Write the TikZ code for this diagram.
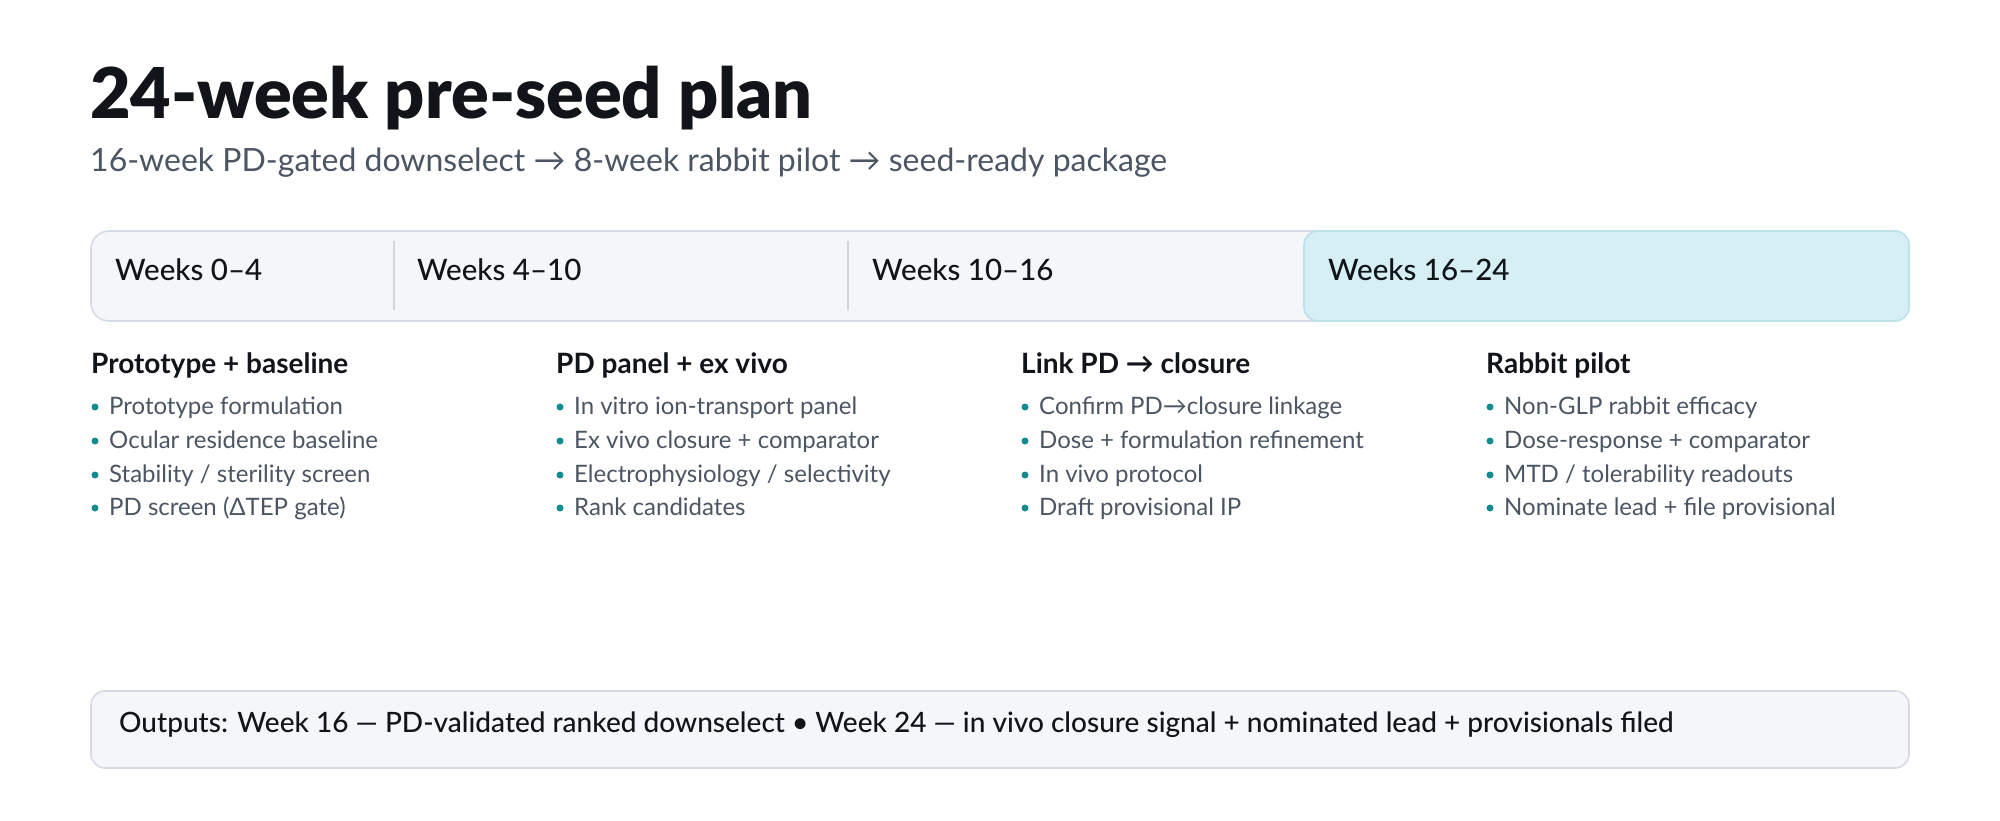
\documentclass[tikz,border=0pt]{standalone}
\usepackage{fontspec}
\setmainfont{Lato}
\newfontfamily\blackfont{Lato Black}
\newfontfamily\mediumfont{Lato Medium}
\definecolor{ink}{HTML}{111418}
\definecolor{subgray}{HTML}{4B5563}
\definecolor{barfill}{HTML}{F4F6FA}
\definecolor{barline}{HTML}{D5DBE3}
\definecolor{hlfill}{HTML}{D6EFF4}
\definecolor{hlline}{HTML}{B9E2EA}
\definecolor{divline}{HTML}{D1D5DB}
\definecolor{teal}{HTML}{128C91}
\begin{document}
\begin{tikzpicture}[x=1pt,y=-1pt,
  titletext/.style={anchor=base west,inner sep=0pt,text=ink,font=\fontsize{70}{80}\selectfont\blackfont},
  subtext/.style={anchor=base west,inner sep=0pt,text=subgray,font=\fontsize{32}{38}\selectfont},
  bar/.style={fill=barfill,draw=barline,line width=1.6pt,rounded corners=18pt},
  hl/.style={fill=hlfill,draw=hlline,line width=1.6pt,rounded corners=14pt},
  divider/.style={draw=divline,line width=1.6pt},
  weektext/.style={anchor=base west,inner sep=0pt,text=ink,font=\fontsize{29.5}{36}\selectfont\mediumfont},
  headtext/.style={anchor=base west,inner sep=0pt,text=ink,font=\fontsize{28}{34}\selectfont\bfseries},
  itemtext/.style={anchor=base west,inner sep=0pt,text=subgray,font=\fontsize{24}{29}\selectfont},
  dot/.style={circle,fill=teal,inner sep=0pt,minimum size=7pt},
  outbox/.style={fill=barfill,draw=barline,line width=1.6pt,rounded corners=14pt},
  outtext/.style={anchor=base west,inner sep=0pt,text=ink,font=\fontsize{28}{34}\selectfont\mediumfont},
]
\useasboundingbox[fill=white] (0,0) rectangle (2000,820);
\node[titletext] (title) at (90,118) {24-week pre-seed plan};
\node[subtext] (sub) at (90,171) {16-week PD-gated downselect → 8-week rabbit pilot → seed-ready package};
% timeline bar
\path[bar] (91,231) rectangle (1909,321);
\path[hl] (1304,231) rectangle (1909,321);
\coordinate (d1t) at (394,241); \coordinate (d1b) at (394,310);
\coordinate (d2t) at (848,241); \coordinate (d2b) at (848,310);
\draw[divider] (d1t) -- (d1b);
\draw[divider] (d2t) -- (d2b);
\node[weektext] (w1) at (115,280) {Weeks 0–4};
\node[weektext] (w2) at (417,280) {Weeks 4–10};
\node[weektext] (w3) at (872,280) {Weeks 10–16};
\node[weektext] (w4) at (1328,280) {Weeks 16–24};
% columns
\foreach \cx/\cn/\head/\ia/\ib/\ic/\id in {
  91/c1/{Prototype + baseline}/{Prototype formulation}/{Ocular residence baseline}/{Stability / sterility screen}/{PD screen (ΔTEP gate)},
  556/c2/{PD panel + ex vivo}/{In vitro ion-transport panel}/{Ex vivo closure + comparator}/{Electrophysiology / selectivity}/{Rank candidates},
  1021/c3/{Link PD → closure}/{Confirm PD→closure linkage}/{Dose + formulation refinement}/{In vivo protocol}/{Draft provisional IP},
  1486/c4/{Rabbit pilot}/{Non-GLP rabbit efficacy}/{Dose-response + comparator}/{MTD / tolerability readouts}/{Nominate lead + file provisional}}{
  \node[headtext] (\cn h) at (\cx,373) {\head};
  \foreach \k/\by/\txt in {1/414/\ia,2/448/\ib,3/482/\ic,4/515/\id}{
    \node[dot] (\cn d\k) at (\cx+4,\by-7) {};
    \node[itemtext] (\cn t\k) at (\cx+18,\by) {\txt};
  }
}
% outputs
\path[outbox] (91,691) rectangle (1909,768);
\node[outtext] (out) at (119,732) {Outputs: Week 16 — PD-validated ranked downselect • Week 24 — in vivo closure signal + nominated lead + provisionals filed};
\end{tikzpicture}
\end{document}
